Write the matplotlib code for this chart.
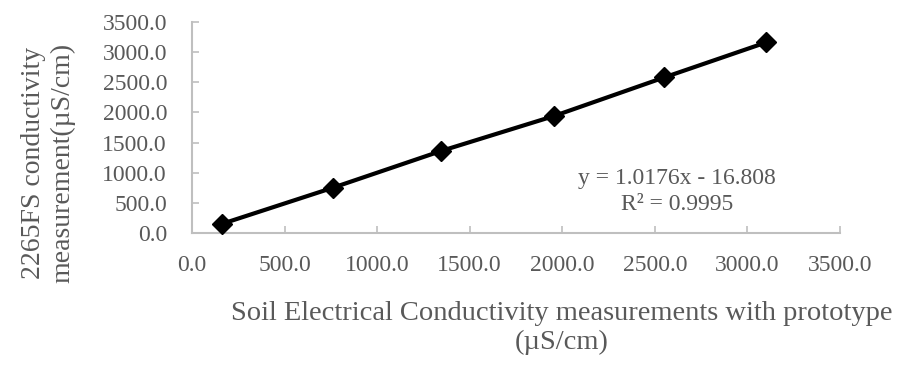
import matplotlib
matplotlib.use("Agg")
import matplotlib.pyplot as plt

# Data
prototype_ec = [160, 760, 1345, 1955, 2550, 3100]
reference_ec = [150, 750, 1360, 1940, 2580, 3160]
x_ticks = [0, 500, 1000, 1500, 2000, 2500, 3000, 3500]
y_ticks = [0, 500, 1000, 1500, 2000, 2500, 3000, 3500]
equation_text = "y = 1.0176x - 16.808\nR² = 0.9995"
x_label = "Soil Electrical Conductivity measurements with prototype\n(µS/cm)"
y_label = "2265FS conductivity\nmeasurement(µS/cm)"

plt.rcParams['font.family'] = ['Liberation Serif', 'DejaVu Serif']
TEXT = '#595959'
SPINE = '#bfbfbf'

W, H = 902, 381
fig = plt.figure(figsize=(W / 100, H / 100), dpi=100)
ax = fig.add_axes([192 / W, 1 - 233 / H, (840 - 192) / W, (233 - 22) / H])

ax.plot(prototype_ec, reference_ec, color='black', lw=3, marker='D',
        markersize=10, markerfacecolor='black', markeredgecolor='black',
        solid_capstyle='round', zorder=3, clip_on=False)

ax.set_xlim(0, 3500)
ax.set_ylim(0, 3500)
ax.set_xticks(x_ticks)
ax.set_yticks(y_ticks)
ax.set_xticklabels([f"{v:.1f}" for v in x_ticks])
ax.set_yticklabels([f"{v:.1f}" for v in y_ticks])

for side in ['top', 'right']:
    ax.spines[side].set_visible(False)
for side in ['left', 'bottom']:
    ax.spines[side].set_color(SPINE)
    ax.spines[side].set_linewidth(1.5)

ax.tick_params(axis='both', direction='in', length=5, width=1.2, color=SPINE,
               labelsize=17, labelcolor=TEXT)
ax.tick_params(axis='x', pad=16)
ax.tick_params(axis='y', pad=18)

ax.text(2620, 690, equation_text, ha='center', va='center', fontsize=17,
        color=TEXT, linespacing=1.3)

fig.text(562 / W, 1 - 328 / H, x_label, ha='center', va='center',
         fontsize=20.5, color=TEXT, linespacing=1.25)
fig.text(48 / W, 1 - 163 / H, y_label, ha='center', va='center',
         rotation=90, fontsize=20, color=TEXT, linespacing=1.25)

fig.savefig("out.png", dpi=100, facecolor='white')
